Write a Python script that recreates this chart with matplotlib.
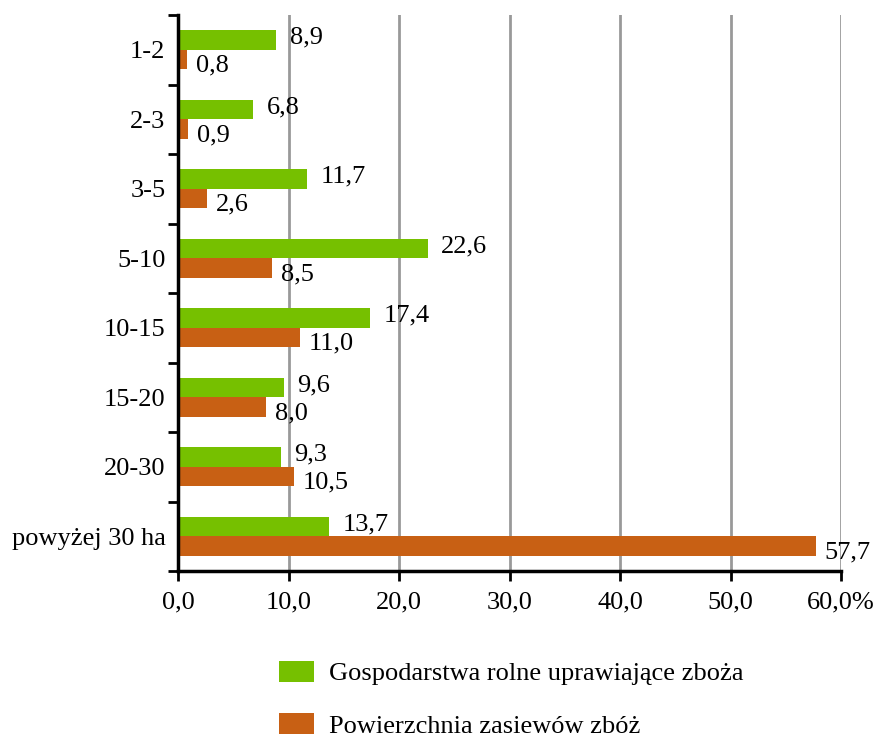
import matplotlib
matplotlib.use("Agg")
import matplotlib.pyplot as plt
import numpy as np
from matplotlib.patches import Patch

plt.rcParams['font.family'] = ['Liberation Serif', 'DejaVu Serif']

categories = ["1-2", "2-3", "3-5", "5-10", "10-15", "15-20", "20-30", "powyżej 30 ha"]
farms = [8.9, 6.8, 11.7, 22.6, 17.4, 9.6, 9.3, 13.7]
area = [0.8, 0.9, 2.6, 8.5, 11.0, 8.0, 10.5, 57.7]
series_names = ["Gospodarstwa rolne uprawiające zboża", "Powierzchnia zasiewów zbóż"]
xticks = [0, 10, 20, 30, 40, 50, 60]

green = "#76C000"
orange = "#C86014"

fig = plt.figure(figsize=(8.88, 7.37), dpi=100)
ax = fig.add_axes([178 / 888, 1 - 571 / 737, (841 - 178) / 888, (571 - 15) / 737])

y = np.arange(len(categories))
h = 0.28
ax.barh(y - h / 2, farms, height=h, color=green, zorder=3)
ax.barh(y + h / 2, area, height=h, color=orange, zorder=3)

fs = 19
for yi, v in zip(y, farms):
    ax.text(v + 1.2, yi - h / 2 - 0.03, f"{v:.1f}".replace(".", ","), va="center", ha="left", fontsize=fs)
for yi, v in zip(y, area):
    ax.text(v + 0.8, yi + h / 2 + 0.09, f"{v:.1f}".replace(".", ","), va="center", ha="left", fontsize=fs)

ax.set_ylim(len(categories) - 0.5, -0.5)
ax.set_xlim(0, 60)

# category labels without ticks, tick marks at boundaries
ax.set_yticks(np.arange(len(categories) + 1) - 0.5)
ax.set_yticklabels([])
ax.set_yticks(y, minor=True)
ax.set_yticklabels(categories, minor=True, fontsize=fs)
ax.tick_params(axis="y", which="minor", length=0, pad=9)
ax.tick_params(axis="y", which="major", length=7, width=2, direction="out")

ax.set_xticks(xticks)
labels = [f"{t:.1f}".replace(".", ",") for t in xticks]
labels[-1] = labels[-1] + "%"
ax.set_xticklabels(labels, fontsize=fs)
ax.tick_params(axis="x", length=7, width=2, direction="out", pad=8)

ax.grid(axis="x", color="#999999", linewidth=2, zorder=0)
for s in ["top", "right"]:
    ax.spines[s].set_visible(False)
for s in ["left", "bottom"]:
    ax.spines[s].set_linewidth(2.5)
    ax.spines[s].set_zorder(4)

handles = [Patch(facecolor=green), Patch(facecolor=orange)]
fig.legend(handles, series_names, loc="upper left", bbox_to_anchor=(268 / 888, 1 - 650 / 737),
           frameon=False, fontsize=fs, handlelength=1.35, handleheight=0.85, labelspacing=1.05,
           handletextpad=0.55, borderaxespad=0)

fig.savefig("out.png", dpi=100)
